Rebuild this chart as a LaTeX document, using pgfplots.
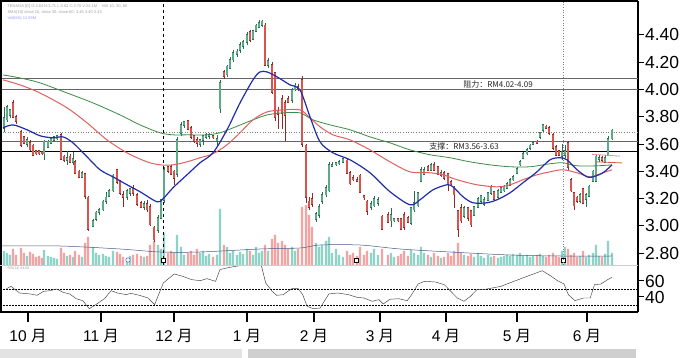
\documentclass[border=0pt]{standalone}
\usepackage{pgfplots}
\pgfplotsset{compat=1.18}
\usepackage{pgfplotstable}
\usepackage{fontspec}
\setmainfont{Liberation Sans}
\newfontfamily\cjk{Noto Sans CJK SC}
\definecolor{upfill}{HTML}{5BAA88}
\definecolor{upedge}{HTML}{2E6B50}
\definecolor{dnfill}{HTML}{D9534F}
\definecolor{dnedge}{HTML}{8E2A26}
\definecolor{vup}{HTML}{8ED3C7}
\definecolor{vdn}{HTML}{F4A3A3}
\definecolor{maone}{HTML}{1F2DA8}
\definecolor{matwo}{HTML}{E0605E}
\definecolor{mathree}{HTML}{3C8C46}
\definecolor{volma}{HTML}{4A5A8A}

\pgfplotstableread{
x o h l c v
4 3.72 3.87 3.69 3.79 14
7 3.78 3.89 3.76 3.87 12
10 3.81 3.86 3.79 3.85 10
13 3.90 3.92 3.79 3.80 16
16 3.80 3.81 3.75 3.77 10
21 3.69 3.70 3.58 3.59 17
24 3.65 3.66 3.60 3.61 12
27 3.60 3.65 3.58 3.63 9
30 3.61 3.63 3.55 3.56 13
33 3.59 3.60 3.51 3.52 11
36 3.55 3.56 3.52 3.53 8
39 3.55 3.56 3.52 3.53 9
42 3.54 3.55 3.52 3.53 7
44 3.53 3.63 3.48 3.62 15
48 3.58 3.63 3.57 3.62 9
51 3.61 3.65 3.60 3.64 8
54 3.63 3.66 3.62 3.65 7
57 3.64 3.67 3.63 3.66 6
61 3.67 3.68 3.48 3.49 17
64 3.51 3.52 3.47 3.48 12
67 3.48 3.55 3.45 3.50 9
70 3.51 3.53 3.46 3.47 10
73 3.47 3.54 3.45 3.49 8
75 3.47 3.48 3.38 3.39 14
79 3.40 3.41 3.35 3.36 10
82 3.36 3.40 3.35 3.39 8
85 3.38 3.39 3.20 3.22 22
88 3.21 3.22 2.96 2.98 28
93 3.00 3.05 2.99 3.04 18
96 3.05 3.11 3.04 3.10 12
99 3.10 3.13 3.08 3.12 10
103 3.12 3.19 3.11 3.18 11
106 3.18 3.25 3.16 3.21 9
109 3.22 3.27 3.21 3.26 8
113 3.26 3.38 3.25 3.37 14
117 3.41 3.42 3.31 3.32 13
120 3.33 3.34 3.23 3.24 11
123 3.23 3.26 3.14 3.21 8
127 3.21 3.27 3.19 3.26 7
130 3.24 3.28 3.22 3.27 9
133 3.28 3.30 3.22 3.24 10
137 3.23 3.24 3.15 3.16 11
141 3.17 3.18 3.13 3.14 9
144 3.14 3.18 3.12 3.16 8
147 3.16 3.19 3.10 3.12 9
150 3.14 3.16 3.00 3.01 20
154 2.99 3.00 2.88 2.90 24
158 2.97 3.08 2.95 3.06 20
161 3.06 3.20 3.05 3.19 16
164 3.19 3.43 3.17 3.41 32
168 3.43 3.44 3.39 3.40 12
171 3.43 3.45 3.37 3.38 14
174 3.40 3.41 3.30 3.35 12
177 3.38 3.65 3.36 3.63 30
181 3.68 3.76 3.66 3.74 18
184 3.74 3.77 3.72 3.76 10
188 3.77 3.78 3.70 3.71 12
191 3.72 3.73 3.64 3.65 14
194 3.66 3.67 3.61 3.62 10
197 3.63 3.65 3.58 3.61 16
200 3.60 3.64 3.58 3.63 12
203 3.63 3.67 3.59 3.66 14
206 3.65 3.68 3.64 3.67 9
209 3.66 3.68 3.64 3.67 11
213 3.66 3.67 3.64 3.65 8
217 3.62 3.67 3.58 3.64 10
220 3.86 4.07 3.83 4.05 56
224 4.13 4.14 4.08 4.10 20
227 4.11 4.18 4.09 4.17 18
230 4.16 4.24 4.15 4.22 12
233 4.22 4.29 4.20 4.27 14
237 4.26 4.30 4.24 4.28 10
240 4.29 4.35 4.27 4.33 13
243 4.32 4.36 4.30 4.35 11
247 4.35 4.42 4.33 4.40 16
250 4.42 4.44 4.35 4.36 14
253 4.37 4.44 4.36 4.43 10
256 4.43 4.48 4.42 4.47 18
259 4.46 4.51 4.45 4.49 12
262 4.47 4.51 4.46 4.50 14
265 4.47 4.49 4.17 4.18 20
268 4.18 4.23 4.16 4.21 14
272 4.18 4.20 3.97 3.98 26
275 4.12 4.13 3.77 3.80 30
278 3.84 3.87 3.71 3.82 22
282 3.93 3.96 3.71 3.83 24
285 3.90 3.92 3.62 3.81 20
288 3.93 3.95 3.90 3.91 16
292 3.92 4.01 3.90 4.00 18
295 4.00 4.05 3.99 4.03 14
298 4.02 4.04 3.99 4.01 16
302 4.07 4.10 3.58 3.60 58
306 3.59 3.60 3.17 3.21 60
309 3.18 3.21 3.12 3.14 50
312 3.20 3.24 3.14 3.16 38
316 3.05 3.10 3.03 3.09 22
319 3.08 3.16 3.06 3.14 18
322 3.18 3.25 3.16 3.23 20
326 3.23 3.30 3.21 3.28 24
329 3.26 3.47 3.25 3.45 28
332 3.44 3.47 3.43 3.45 12
336 3.45 3.47 3.44 3.46 16
339 3.46 3.48 3.45 3.47 10
343 3.47 3.50 3.46 3.49 8
347 3.48 3.49 3.38 3.39 14
350 3.39 3.40 3.30 3.31 10
353 3.35 3.37 3.33 3.34 12
357 3.34 3.36 3.32 3.33 9
360 3.37 3.38 3.24 3.25 18
364 3.22 3.23 3.19 3.21 10
367 3.18 3.19 3.08 3.11 14
371 3.14 3.18 3.12 3.16 12
374 3.15 3.22 3.14 3.20 16
378 3.17 3.21 3.15 3.19 10
382 3.07 3.08 2.97 2.98 16
388 3.08 3.10 3.02 3.03 10
391 3.04 3.13 2.99 3.08 12
394 3.04 3.06 3.03 3.05 8
398 3.05 3.06 3.03 3.04 9
401 3.05 3.06 2.97 2.98 11
404 3.08 3.10 2.97 2.99 14
408 3.06 3.07 3.02 3.03 9
411 3.02 3.14 3.01 3.13 15
414 3.12 3.26 3.10 3.17 12
418 3.15 3.25 3.14 3.24 10
421 3.33 3.43 3.32 3.41 18
424 3.38 3.43 3.37 3.41 12
428 3.43 3.45 3.40 3.41 10
431 3.41 3.46 3.40 3.45 8
434 3.45 3.47 3.40 3.41 12
438 3.43 3.44 3.37 3.38 9
441 3.37 3.41 3.36 3.39 7
444 3.39 3.40 3.34 3.35 8
448 3.38 3.39 3.26 3.31 12
451 3.32 3.34 3.30 3.31 9
454 3.28 3.29 3.13 3.23 14
458 3.11 3.12 2.92 2.98 22
461 3.13 3.16 3.02 3.04 12
464 3.07 3.15 3.06 3.13 10
468 3.13 3.14 3.04 3.06 9
471 3.11 3.12 2.99 3.01 11
474 3.08 3.15 3.07 3.14 8
478 3.14 3.21 3.13 3.20 12
481 3.18 3.23 3.17 3.22 9
484 3.16 3.21 3.15 3.19 7
488 3.19 3.25 3.18 3.24 10
491 3.24 3.30 3.23 3.29 8
494 3.25 3.26 3.19 3.20 9
498 3.21 3.27 3.20 3.26 7
501 3.25 3.29 3.24 3.28 8
504 3.26 3.30 3.25 3.29 9
507 3.28 3.32 3.27 3.31 10
510 3.30 3.35 3.29 3.34 9
513 3.34 3.37 3.33 3.36 11
517 3.39 3.43 3.38 3.42 10
520 3.45 3.48 3.44 3.47 12
523 3.50 3.54 3.49 3.53 9
527 3.53 3.57 3.52 3.56 10
530 3.57 3.60 3.56 3.59 8
533 3.60 3.62 3.59 3.61 9
537 3.62 3.63 3.60 3.61 10
540 3.65 3.69 3.64 3.68 11
543 3.70 3.75 3.69 3.74 9
546 3.73 3.74 3.71 3.72 8
549 3.72 3.73 3.67 3.68 10
553 3.67 3.68 3.56 3.57 12
556 3.58 3.59 3.51 3.52 9
559 3.55 3.56 3.51 3.52 8
562 3.51 3.60 3.48 3.54 14
565 3.52 3.59 3.50 3.55 18
568 3.61 3.62 3.41 3.43 16
571 3.34 3.35 3.25 3.26 10
574 3.24 3.25 3.12 3.15 12
577 3.21 3.22 3.17 3.18 8
580 3.18 3.24 3.17 3.23 9
583 3.27 3.28 3.16 3.17 14
586 3.20 3.24 3.14 3.23 8
589 3.22 3.30 3.21 3.29 10
593 3.33 3.41 3.32 3.40 12
596 3.33 3.52 3.32 3.51 20
599 3.49 3.52 3.47 3.50 9
602 3.50 3.51 3.47 3.48 8
605 3.47 3.52 3.46 3.50 11
608 3.52 3.66 3.51 3.64 24
612 3.64 3.71 3.63 3.70 12
}\candles

\begin{document}
\begin{tikzpicture}
\useasboundingbox (0pt,0pt) rectangle (683pt,358pt);
\fill[white] (0pt,0pt) rectangle (683pt,358pt);
\fill[gray!22] (0pt,0pt) rectangle (242pt,9pt);
\fill[gray!38] (248pt,0pt) rectangle (636pt,9pt);

% ---------- volume ----------
\begin{axis}[at={(0pt,93pt)}, anchor=south west, scale only axis,
  width=638pt, height=264pt, xmin=0, xmax=638, ymin=0, ymax=264,
  hide axis, clip=true]
\addplot[ybar, bar width=2.4pt, bar shift=0pt, fill=vup, draw=none,
  restrict expr to domain={\thisrow{c}-\thisrow{o}}{0:10}] table[x=x,y=v]{\candles};
\addplot[ybar, bar width=2.4pt, bar shift=0pt, fill=vdn, draw=none,
  restrict expr to domain={\thisrow{c}-\thisrow{o}}{-10:-0.001}] table[x=x,y=v]{\candles};
\addplot[volma, line width=0.5pt, smooth] coordinates {(0,19)(60,19)(120,16)(160,13)(200,13)(260,16)(300,17)(320,20)(360,20)(400,16)(450,13)(510,10)(560,9)(612,9)};
\addplot[only marks, mark=square*, mark size=2.2pt, mark options={fill=white, draw=black, line width=0.5pt}] coordinates {(163,5)(356,5)(563,5)};
\addplot[only marks, mark=*, mark size=2.2pt, mark options={fill=white, draw=blue!70, line width=0.5pt}] coordinates {(128,5)};
\end{axis}

% ---------- price ----------
\begin{axis}[at={(0pt,93pt)}, anchor=south west, scale only axis,
  width=638pt, height=264pt, xmin=0, xmax=638, ymin=2.714, ymax=4.649,
  axis x line=none, axis y line*=right,
  axis line style={-, black, line width=1.6pt},
  ytick={2.8,3,3.2,3.4,3.6,3.8,4,4.2,4.4},
  yticklabels={2.80,3.00,3.20,3.40,3.60,3.80,4.00,4.20,4.40},
  tick align=outside, major tick length=6pt,
  every tick/.style={black, line width=1pt},
  yticklabel style={font=\fontsize{17.5}{17.5}\selectfont, xshift=-2.5pt},
  clip=true]
% reference lines
\addplot[gray!80!black, line width=0.6pt] coordinates {(0,4.083)(638,4.083)};
\addplot[gray!80!black, line width=0.6pt] coordinates {(0,4.0)(638,4.0)};
\addplot[gray!80!black, line width=0.6pt] coordinates {(0,3.619)(638,3.619)};
\addplot[black, line width=1.3pt] coordinates {(0,3.546)(638,3.546)};
\addplot[gray, dotted, line width=0.6pt] coordinates {(0,3.688)(638,3.688)};
\addplot[black, dashed, line width=0.6pt] coordinates {(163,2.714)(163,4.649)};
\addplot[gray, dotted, line width=0.6pt] coordinates {(563,2.714)(563,4.649)};
% wicks
\addplot[draw=none, mark=none, restrict expr to domain={\thisrow{c}-\thisrow{o}}{0:10},
  error bars/.cd, y dir=both, y explicit, error mark=none,
  error bar style={draw=upedge, line width=0.6pt}]
  table[x=x, y expr={(\thisrow{h}+\thisrow{l})/2}, y error expr={(\thisrow{h}-\thisrow{l})/2}]{\candles};
\addplot[draw=none, mark=none, restrict expr to domain={\thisrow{c}-\thisrow{o}}{-10:-0.001},
  error bars/.cd, y dir=both, y explicit, error mark=none,
  error bar style={draw=dnedge, line width=0.6pt}]
  table[x=x, y expr={(\thisrow{h}+\thisrow{l})/2}, y error expr={(\thisrow{h}-\thisrow{l})/2}]{\candles};
% bodies: outline then fill
\addplot[draw=none, mark=none, restrict expr to domain={\thisrow{c}-\thisrow{o}}{0:10},
  error bars/.cd, y dir=both, y explicit, error mark=none,
  error bar style={draw=upedge, line width=2.6pt}]
  table[x=x, y expr={(\thisrow{o}+\thisrow{c})/2}, y error expr={abs(\thisrow{c}-\thisrow{o})/2+0.006}]{\candles};
\addplot[draw=none, mark=none, restrict expr to domain={\thisrow{c}-\thisrow{o}}{0:10},
  error bars/.cd, y dir=both, y explicit, error mark=none,
  error bar style={draw=upfill, line width=1.3pt}]
  table[x=x, y expr={(\thisrow{o}+\thisrow{c})/2}, y error expr={abs(\thisrow{c}-\thisrow{o})/2}]{\candles};
\addplot[draw=none, mark=none, restrict expr to domain={\thisrow{c}-\thisrow{o}}{-10:-0.001},
  error bars/.cd, y dir=both, y explicit, error mark=none,
  error bar style={draw=dnedge, line width=2.6pt}]
  table[x=x, y expr={(\thisrow{o}+\thisrow{c})/2}, y error expr={abs(\thisrow{c}-\thisrow{o})/2+0.006}]{\candles};
\addplot[draw=none, mark=none, restrict expr to domain={\thisrow{c}-\thisrow{o}}{-10:-0.001},
  error bars/.cd, y dir=both, y explicit, error mark=none,
  error bar style={draw=dnfill, line width=1.3pt}]
  table[x=x, y expr={(\thisrow{o}+\thisrow{c})/2}, y error expr={abs(\thisrow{c}-\thisrow{o})/2}]{\candles};
% moving averages
\addplot[mathree, line width=0.8pt, smooth, tension=0.5] coordinates {(3,4.107)(20,4.085)(40,4.049)(67,3.975)(93,3.902)(120,3.814)(140,3.741)(160,3.683)(173,3.668)(187,3.668)(207,3.668)(220,3.683)(233,3.719)(253,3.778)(267,3.814)(283,3.829)(300,3.829)(313,3.778)(330,3.741)(350,3.705)(370,3.653)(390,3.609)(410,3.558)(430,3.522)(450,3.500)(470,3.470)(490,3.448)(510,3.434)(530,3.434)(550,3.456)(563,3.463)(577,3.441)(597,3.441)(612,3.448)};
\addplot[matwo, line width=1pt, smooth, tension=0.5] coordinates {(3,4.071)(20,4.034)(40,3.975)(67,3.866)(87,3.756)(107,3.631)(127,3.536)(147,3.470)(160,3.448)(173,3.448)(187,3.470)(200,3.500)(213,3.529)(227,3.595)(240,3.683)(253,3.778)(267,3.836)(283,3.851)(300,3.851)(310,3.792)(320,3.727)(333,3.668)(350,3.631)(370,3.558)(390,3.470)(410,3.397)(430,3.390)(443,3.375)(457,3.339)(477,3.302)(497,3.287)(510,3.302)(523,3.339)(537,3.375)(550,3.397)(563,3.412)(577,3.390)(590,3.360)(603,3.390)(612,3.412)};
\addplot[maone, line width=1.2pt, smooth, tension=0.5] coordinates {(3,3.719)(13,3.741)(27,3.705)(40,3.661)(53,3.646)(63,3.653)(73,3.609)(87,3.507)(100,3.412)(113,3.360)(127,3.302)(140,3.251)(157,3.177)(163,3.199)(173,3.280)(187,3.375)(200,3.463)(213,3.536)(227,3.705)(240,3.902)(253,4.071)(260,4.129)(267,4.129)(277,4.093)(290,4.034)(300,3.997)(310,3.800)(320,3.617)(333,3.536)(350,3.485)(370,3.390)(390,3.251)(410,3.155)(420,3.192)(433,3.265)(447,3.302)(453,3.287)(463,3.214)(473,3.170)(487,3.170)(497,3.192)(510,3.243)(523,3.317)(537,3.397)(550,3.485)(560,3.500)(567,3.485)(577,3.412)(587,3.360)(593,3.360)(603,3.390)(612,3.448)};
\addplot[matwo!70, line width=0.8pt] coordinates {(592,3.525)(620,3.512)};
\addplot[dnfill, line width=0.8pt] coordinates {(597,3.47)(622,3.462)};
\node[font=\cjk\fontsize{8}{8}\selectfont, text=black!85] at (axis cs:498,4.036) {阻力：RM4.02-4.09};
\node[font=\cjk\fontsize{8}{8}\selectfont, text=black!85] at (axis cs:464,3.581) {支撑：RM3.56-3.63};
\end{axis}

% ---------- RSI ----------
\begin{axis}[at={(0pt,46pt)}, anchor=south west, scale only axis,
  width=638pt, height=47pt, xmin=0, xmax=638, ymin=21.25, ymax=80,
  axis x line=none, axis y line*=right,
  axis line style={-, black, line width=1.6pt},
  ytick={40,60}, yticklabels={40,60},
  tick align=outside, major tick length=6pt,
  every tick/.style={black, line width=1pt},
  yticklabel style={font=\fontsize{17.5}{17.5}\selectfont, xshift=-2.5pt},
  clip=true]
\addplot[black, line width=0.6pt, dash pattern=on 1.6pt off 1.4pt] coordinates {(0,50)(638,50)};
\addplot[black, line width=0.6pt, dash pattern=on 1.6pt off 1.4pt] coordinates {(0,30)(638,30)};
\addplot[black!75, line width=0.45pt] coordinates {(6.5,50.4)(10.9,53.3)(19.6,45)(30.5,43.75)(37,42.1)(43.6,47.1)(50.1,47.9)(56.6,50)(63.2,45.8)(69.7,43.75)(76.2,37.9)(82.8,35.4)(89.3,25.4)(95.8,30.4)(104.5,37.9)(111.1,47.9)(117.6,45)(126.3,42.9)(130.7,44.6)(139.4,42.1)(148.1,38.75)(154.6,30.4)(163.3,57.5)(174.2,68.75)(182.9,65.8)(191.6,61.7)(200.3,60.4)(206.9,62.9)(215.6,59.6)(219.9,74.2)(226.5,76.25)(235.2,78.3)(243.9,79.6)(261.3,79.6)(265.7,57.5)(272.2,47.1)(276.6,42.1)(283.1,42.9)(291.8,50.4)(298.3,50.4)(302.7,42.9)(307.1,28.3)(313.6,25.4)(320.1,26.25)(328.8,43.75)(337.5,45)(348.4,42.9)(357.1,39.6)(363.7,38.75)(372.4,34.6)(378.9,36.7)(383.3,31.25)(389.8,37.1)(398.5,37.9)(407.2,35.4)(411.6,42.9)(418.1,56.25)(424.6,59.6)(435.5,58.75)(444.3,55.4)(450.8,47.1)(457.3,38.75)(463.9,34.6)(470.4,40.8)(476.9,49.2)(483.4,49.2)(492.2,51.25)(500.9,53.3)(509.6,57.5)(518.3,61.7)(527,65.8)(533.5,68.75)(542.2,72.9)(548.8,67.9)(557.5,60.4)(564,56.25)(568.4,42.9)(574.9,35.4)(583.6,38.75)(590.2,38.75)(594.5,55.4)(601,56.25)(607.6,61.7)(611.9,64.6)};
\end{axis}

% ---------- month axis ----------
\begin{axis}[at={(0pt,46pt)}, anchor=south west, scale only axis,
  width=638pt, height=47pt, xmin=0, xmax=638, ymin=0, ymax=1,
  axis y line=none, axis x line*=bottom,
  axis line style={-, black, line width=1.6pt},
  xtick={28,101,174,247,314,380,446,517,587},
  xticklabels={10 {\cjk 月},11 {\cjk 月},12 {\cjk 月},1 {\cjk 月},2 {\cjk 月},3 {\cjk 月},4 {\cjk 月},5 {\cjk 月},6 {\cjk 月}},
  tick align=outside, major tick length=10pt,
  every tick/.style={black, line width=1.6pt},
  xticklabel style={font=\fontsize{15.5}{15.5}\selectfont, yshift=-4pt}]
\end{axis}

% frame and header
\draw[black, line width=2pt] (0pt,357pt) -- (638pt,357pt);
\draw[black, line width=1.5pt] (0.75pt,46pt) -- (0.75pt,358pt);
\draw[gray!40, line width=0.4pt] (0pt,93pt) -- (638pt,93pt);
\node[anchor=west, font=\fontsize{4}{4}\selectfont, text=gray!75] at (4pt,352pt) {TENAGA [D] O:3.64 H:3.71 L:3.63 C:3.70 V:24.1M \quad MA 10, 30, 60};
\node[anchor=west, font=\fontsize{4}{4}\selectfont, text=gray!75] at (4pt,346pt) {SMA(10) close 10, close 30, close 60: 3.45 3.40 3.43};
\node[anchor=west, font=\fontsize{4}{4}\selectfont, text=blue!40] at (4pt,340pt) {Vol(MA) 12.65M};
\node[anchor=west, font=\fontsize{3.5}{3.5}\selectfont, text=gray!75] at (4pt,89pt) {RSI(14) 64.60};
\end{tikzpicture}
\end{document}
